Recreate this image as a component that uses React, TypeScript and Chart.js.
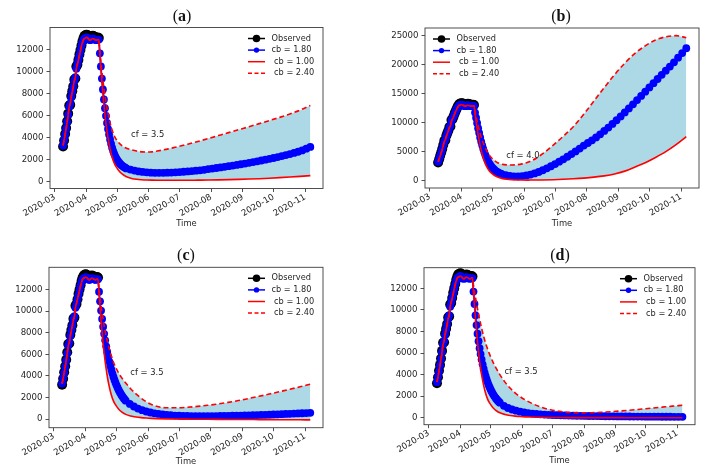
import React, { useEffect, useRef } from "react";
import { Chart, registerables } from "chart.js";

Chart.register(...registerables);

// ---------------- data ----------------
// x values are days counted from 2020-03-01
const monthTicks = [0, 31, 61, 92, 122, 153, 184, 214, 245];
const monthLabels = ["2020-03", "2020-04", "2020-05", "2020-06", "2020-07", "2020-08", "2020-09", "2020-10", "2020-11"];

const yTicksSmall = [0, 2000, 4000, 6000, 8000, 10000, 12000];
const yTicksLarge = [0, 5000, 10000, 15000, 20000, 25000];

const legendLabels = ["Observed", "cb = 1.80", " cb = 1.00", " cb = 2.40"];
const panelLetters = ["a", "b", "c", "d"];
const cfLabels = ["cf = 3.5", "cf = 4.0", "cf = 3.5", "cf = 3.5"];
const xTitle = "Time";

const obsDays = [8, 9, 10, 11, 12, 13, 14, 15, 16, 17, 18, 19, 20, 21, 22, 23, 24, 25, 26, 27, 28, 29, 30, 31, 32, 33, 34, 35, 36, 37, 38, 39, 40, 41, 42, 43];
const observed = [3200, 3750, 4350, 4900, 5500, 6200, 6950, 7000, 7800, 8250, 8700, 9300, 9400, 10500, 10650, 11100, 11600, 12000, 12400, 12800, 13100, 13300, 13350, 13400, 13350, 13250, 13200, 13150, 13200, 13300, 13250, 13200, 13150, 13100, 13150, 13100];
const fitted = [3300, 3800, 4300, 4850, 5450, 6100, 6800, 7100, 7700, 8200, 8650, 9200, 9500, 10300, 10700, 11100, 11500, 11950, 12350, 12700, 12950, 13050, 13100, 13150, 13100, 13000, 12900, 12900, 13000, 13050, 13000, 12950, 12900, 12900, 12950, 12950];

const redDays = [44, 45, 46, 47, 48, 49, 50, 52, 54, 56, 58, 60, 63, 66, 70, 75, 80, 85, 90, 95, 100, 110, 120, 130, 140, 150, 160, 170, 180, 190, 200, 210, 220, 230, 240, 250];
const blueDays = [44, 45, 46, 47, 48, 49, 50, 51, 52, 53, 54, 55, 56, 57, 58, 59, 60, 61, 62, 63, 64, 65, 66, 67, 68, 69, 70,
  74, 78, 82, 86, 90, 94, 98, 102, 106, 110, 114, 118, 122, 126, 130, 134, 138, 142, 146, 150, 154, 158, 162, 166, 170, 174, 178, 182, 186, 190,
  194, 198, 202, 206, 210, 214, 218, 222, 226, 230, 234, 238, 242, 246, 250];

// panel (a)
const blueA = [11700, 10500, 9400, 8400, 7500, 6700, 6000, 5350, 4800, 4300, 3850, 3450, 3100, 2800, 2550, 2330, 2150, 1990, 1850, 1730, 1620, 1530, 1450, 1380, 1320, 1260, 1210,
  1100, 1010, 940, 890, 850, 825, 810, 805, 810, 820, 835, 855, 880, 905, 935, 965, 1000, 1040, 1080, 1150, 1200, 1250, 1300, 1355, 1410, 1465, 1525, 1590, 1655, 1720,
  1790, 1860, 1930, 2005, 2080, 2160, 2245, 2335, 2425, 2520, 2620, 2730, 2850, 3010, 3170];
const solidA = [11600, 10300, 9100, 8000, 7000, 6100, 5300, 4000, 3000, 2250, 1700, 1350, 950, 680, 450, 300, 220, 180, 155, 140, 130, 125, 125, 130, 140, 150, 165, 185, 210, 240, 275, 320, 370, 425, 485, 550];
const dashedA = [11900, 10950, 10050, 9250, 8500, 7850, 7250, 6200, 5350, 4700, 4200, 3850, 3500, 3250, 3050, 2900, 2790, 2720, 2700, 2720, 2790, 2970, 3190, 3420, 3670, 3930, 4200, 4470, 4740, 5010, 5290, 5570, 5860, 6170, 6520, 6950];

// panel (b)
const blueB = [11800, 10900, 10000, 9100, 8300, 7500, 6800, 6150, 5550, 5000, 4500, 4050, 3650, 3300, 3000, 2720, 2480, 2260, 2070, 1900, 1750, 1620, 1510, 1410, 1320, 1250, 1180,
  1000, 880, 810, 800, 850, 950, 1100, 1300, 1550, 1850, 2180, 2540, 2920, 3320, 3740, 4180, 4630, 5100, 5590, 6100, 6550, 7010, 7500, 8050, 8620, 9210, 9830, 10470, 11130, 11810,
  12510, 13220, 13940, 14670, 15400, 16130, 16860, 17580, 18300, 19010, 19720, 20460, 21250, 22050, 22880];
const solidB = [11600, 10300, 9100, 8000, 7000, 6100, 5300, 4000, 3000, 2250, 1700, 1350, 950, 680, 450, 300, 220, 180, 160, 155, 160, 180, 220, 290, 380, 500, 660, 880, 1200, 1700, 2400, 3150, 4050, 5050, 6250, 7650];
const dashedB = [12000, 11100, 10300, 9550, 8850, 8200, 7600, 6550, 5700, 5000, 4450, 4000, 3500, 3150, 2900, 2780, 2760, 2800, 2950, 3200, 3550, 4700, 6150, 7700, 9400, 11500, 13800, 16100, 18300, 20300, 22000, 23300, 24300, 24850, 25050, 24700];

// panel (c)
const blueC = [11800, 10900, 10050, 9280, 8560, 7900, 7300, 6740, 6230, 5760, 5330, 4940, 4580, 4250, 3940, 3660, 3400, 3160, 2940, 2740, 2550, 2380, 2220, 2080, 1950, 1830, 1720,
  1420, 1180, 990, 840, 720, 625, 550, 490, 440, 400, 370, 345, 325, 310, 300, 292, 287, 285, 285, 287, 290, 295, 300, 307, 315, 323, 332, 342, 352, 363,
  375, 387, 400, 414, 428, 443, 458, 474, 490, 507, 524, 541, 558, 575, 592];
const solidC = [11600, 10300, 9100, 8000, 7000, 6100, 5300, 4000, 3000, 2250, 1700, 1350, 950, 680, 450, 300, 210, 150, 110, 80, 60, 35, 20, 10, 0, -5, -10, -15, -20, -25, -30, -35, -40, -45, -50, -55];
const dashedC = [12000, 11200, 10500, 9800, 9200, 8650, 8150, 7250, 6500, 5850, 5300, 4850, 4300, 3850, 3350, 2800, 2350, 1950, 1620, 1370, 1200, 1060, 1060, 1110, 1190, 1290, 1410, 1560, 1730, 1920, 2120, 2330, 2550, 2770, 3000, 3250];

// panel (d)
const blueD = [11700, 10550, 9500, 8600, 7800, 7100, 6450, 5900, 5400, 4950, 4550, 4180, 3850, 3550, 3280, 3030, 2800, 2600, 2410, 2240, 2080, 1940, 1810, 1690, 1580, 1480, 1390,
  1100, 900, 760, 650, 560, 490, 430, 385, 345, 315, 290, 270, 250, 235, 222, 210, 200, 190, 180, 172, 165, 158, 152, 146, 140, 135, 130, 126, 122, 118,
  114, 110, 107, 104, 101, 98, 96, 94, 92, 90, 88, 86, 84, 82, 80];
const solidD = [11600, 10300, 9100, 8000, 7000, 6100, 5300, 4000, 3000, 2250, 1700, 1350, 950, 680, 450, 300, 210, 150, 110, 80, 60, 35, 20, 12, 8, 5, 4, 3, 2, 2, 1, 1, 1, 1, 1, 1];
const dashedD = [12300, 11700, 11150, 10600, 10100, 9600, 9150, 8300, 7550, 6900, 6350, 5850, 5200, 4650, 4000, 3300, 2750, 2300, 1950, 1650, 1400, 1000, 730, 570, 480, 450, 460, 500, 560, 630, 710, 800, 890, 980, 1070, 1150];

const cfValue = 4300;
const cfDay = 74.5;

// ---------------- styling / layout ----------------
const FONT = "'DejaVu Sans', 'Noto Sans', sans-serif";
const TEXT = "#262626";
const AXIS = "#3c3c3c";
const RED = "#ff0000";
const BLUE = "#0000ff";
const FILL = "#add8e6";
const X_MIN = -4.8;
const X_MAX = 262.4;

type PanelDef = {
  idx: number; left: number; top: number; w: number; h: number;
  l: number; r: number; t: number; b: number;
  yMin: number; yMax: number; yTicks: number[];
  titleX: number; titleY: number; timePad: number; legendSide: "left" | "right";
  blue: number[]; solid: number[]; dashed: number[];
};

const panels: PanelDef[] = [
  { idx: 0, left: 0, top: 0, w: 354, h: 235, l: 50, r: 323, t: 27.5, b: 188.5, yMin: -620, yMax: 14050, yTicks: yTicksSmall, titleX: 182, titleY: 16, timePad: 6.2, legendSide: "right", blue: blueA, solid: solidA, dashed: dashedA },
  { idx: 1, left: 354, top: 0, w: 355, h: 235, l: 71, r: 345, t: 28, b: 188, yMin: -1210, yMax: 26370, yTicks: yTicksLarge, titleX: 561, titleY: 16, timePad: 6.4, legendSide: "left", blue: blueB, solid: solidB, dashed: dashedB },
  { idx: 2, left: 0, top: 235, w: 354, h: 235, l: 49, r: 323, t: 32.3, b: 192.7, yMin: -780, yMax: 14050, yTicks: yTicksSmall, titleX: 186, titleY: 255, timePad: 3.2, legendSide: "right", blue: blueC, solid: solidC, dashed: dashedC },
  { idx: 3, left: 354, top: 235, w: 355, h: 235, l: 70, r: 341, t: 32.7, b: 189.7, yMin: -650, yMax: 13920, yTicks: yTicksSmall, titleX: 560, titleY: 255, timePad: 3.8, legendSide: "right", blue: blueD, solid: solidD, dashed: dashedD },
];

function decorPlugin(p: PanelDef) {
  return {
    id: "decor" + p.idx,
    afterDraw(chart: any) {
      const { ctx, chartArea } = chart;
      const { left, right, top, bottom } = chartArea;
      ctx.save();
      ctx.strokeStyle = AXIS;
      ctx.lineWidth = 0.9;
      ctx.setLineDash([]);
      ctx.strokeRect(left, top, right - left, bottom - top);

      const xs = chart.scales.x;
      const ys = chart.scales.y;
      ctx.fillStyle = TEXT;
      ctx.font = "8.4px " + FONT;
      ctx.textAlign = "left";
      ctx.textBaseline = "middle";
      ctx.fillText(cfLabels[p.idx], xs.getPixelForValue(cfDay), ys.getPixelForValue(cfValue));

      const hx = p.legendSide === "right" ? right - 75 : left + 8;
      const handleLen = 17;
      const items = [
        { color: "#000", dash: [] as number[], marker: 3.8 },
        { color: BLUE, dash: [] as number[], marker: 2.7 },
        { color: RED, dash: [] as number[], marker: 0 },
        { color: RED, dash: [4, 2.5], marker: 0 },
      ];
      items.forEach((it, i) => {
        const y = top + 11 + i * 11.6;
        ctx.strokeStyle = it.color;
        ctx.lineWidth = 1.5;
        ctx.setLineDash(it.dash);
        ctx.beginPath();
        ctx.moveTo(hx, y);
        ctx.lineTo(hx + handleLen, y);
        ctx.stroke();
        ctx.setLineDash([]);
        if (it.marker > 0) {
          ctx.fillStyle = it.color;
          ctx.beginPath();
          ctx.arc(hx + handleLen / 2, y, it.marker, 0, Math.PI * 2);
          ctx.fill();
        }
        ctx.fillStyle = TEXT;
        ctx.font = "8.2px " + FONT;
        ctx.textAlign = "left";
        ctx.textBaseline = "middle";
        ctx.fillText(legendLabels[i], hx + handleLen + 6.5, y);
      });
      ctx.restore();
    },
  };
}

function buildConfig(p: PanelDef): any {
  const pts = (days: number[], vals: number[]) => days.map((d, i) => ({ x: d, y: vals[i] }));
  const fitPts = pts(obsDays, fitted);
  const tickFont = { family: FONT, size: 8.6 };
  const grid = { display: true, drawOnChartArea: false, drawTicks: true, tickLength: 3.5, color: AXIS, lineWidth: 0.9 };
  return {
    type: "line",
    data: {
      datasets: [
        {
          label: legendLabels[3],
          data: [...fitPts, ...pts(redDays, p.dashed)],
          borderColor: RED, borderWidth: 1.6, borderDash: [5, 3], pointRadius: 0,
          cubicInterpolationMode: "monotone",
          fill: { target: 1, above: FILL, below: FILL },
          backgroundColor: FILL,
        },
        {
          label: legendLabels[2],
          data: [...fitPts, ...pts(redDays, p.solid)],
          borderColor: RED, borderWidth: 1.6, pointRadius: 0,
          cubicInterpolationMode: "monotone",
          fill: false,
        },
        {
          label: legendLabels[1],
          data: [...fitPts, ...pts(blueDays, p.blue)],
          borderColor: BLUE, borderWidth: 1.6, pointRadius: 3.9, pointBackgroundColor: BLUE, pointBorderWidth: 0,
          fill: false,
        },
        {
          label: legendLabels[0],
          data: pts(obsDays, observed),
          borderColor: "#000", borderWidth: 1.5, pointRadius: 5, pointBackgroundColor: "#000", pointBorderWidth: 0,
          fill: false,
        },
      ],
    },
    options: {
      responsive: false,
      maintainAspectRatio: false,
      animation: false,
      devicePixelRatio: 1,
      events: [],
      layout: { padding: { top: p.t, right: p.w - p.r, left: 0, bottom: 0 } },
      plugins: {
        legend: { display: false },
        tooltip: { enabled: false },
        title: { display: false },
        filler: { drawTime: "beforeDatasetsDraw" },
      },
      scales: {
        x: {
          type: "linear",
          min: X_MIN,
          max: X_MAX,
          afterBuildTicks: (s: any) => { s.ticks = monthTicks.map((v) => ({ value: v })); },
          afterFit: (s: any) => { s.height = p.h - p.b; },
          ticks: {
            autoSkip: false, minRotation: 30, maxRotation: 30, padding: 0,
            font: tickFont, color: TEXT,
            callback: (_v: any, i: number) => monthLabels[i],
          },
          grid,
          border: { display: false },
          title: { display: true, text: xTitle, color: TEXT, font: { family: FONT, size: 8.4 }, padding: { top: 0, bottom: p.timePad } },
        },
        y: {
          type: "linear",
          min: p.yMin,
          max: p.yMax,
          afterBuildTicks: (s: any) => { s.ticks = p.yTicks.map((v) => ({ value: v })); },
          afterFit: (s: any) => { s.width = p.l; },
          ticks: { padding: 3, font: tickFont, color: TEXT, callback: (v: any) => String(v) },
          grid,
          border: { display: false },
        },
      },
    },
    plugins: [decorPlugin(p)],
  };
}

function PanelChart({ p }: { p: PanelDef }) {
  const ref = useRef<HTMLCanvasElement>(null);
  useEffect(() => {
    const canvas = ref.current;
    if (!canvas) return;
    const chart = new Chart(canvas, buildConfig(p));
    return () => chart.destroy();
  }, [p]);
  return (
    <canvas
      ref={ref}
      width={p.w}
      height={p.h}
      style={{ position: "absolute", left: p.left, top: p.top, width: p.w, height: p.h }}
    />
  );
}

export default function App() {
  return (
    <div style={{ position: "absolute", left: 0, top: 0, width: 709, height: 470, background: "#fff", overflow: "hidden" }}>
      {panels.map((p) => (
        <PanelChart key={p.idx} p={p} />
      ))}
      {panels.map((p) => (
        <div
          key={"t" + p.idx}
          style={{
            position: "absolute", left: p.titleX - 30, top: p.titleY - 11, width: 60, height: 22,
            lineHeight: "22px", textAlign: "center", fontFamily: "'Liberation Serif', 'DejaVu Serif', serif",
            fontSize: 16, color: "#111",
          }}
        >
          (<b>{panelLetters[p.idx]}</b>)
        </div>
      ))}
    </div>
  );
}
